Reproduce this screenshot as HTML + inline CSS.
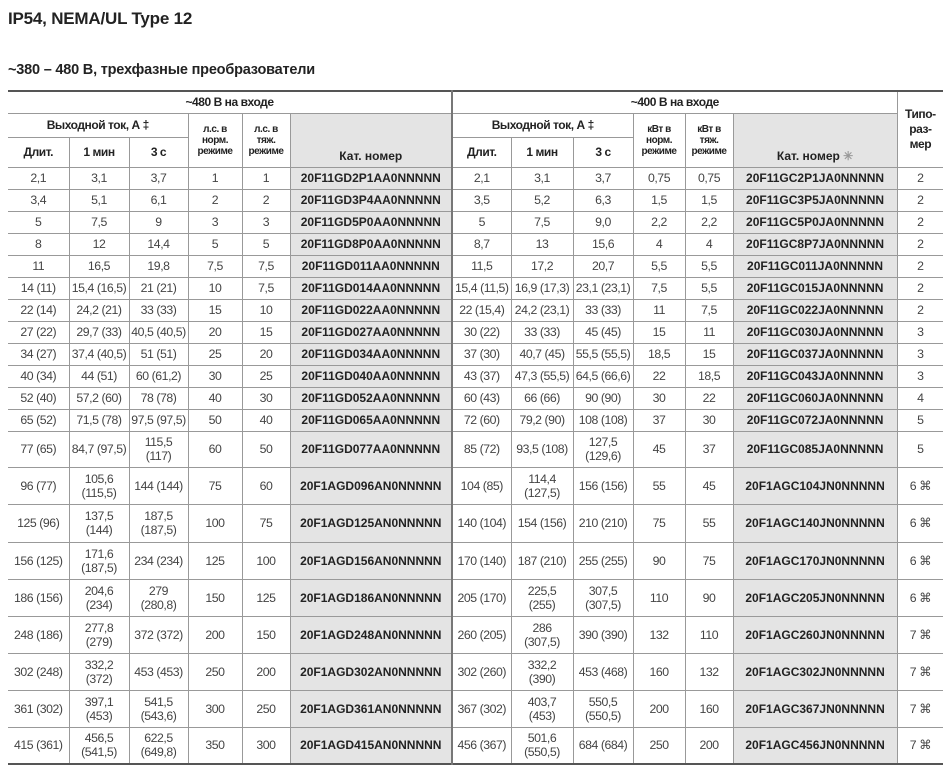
<!DOCTYPE html>
<html><head><meta charset="utf-8"><style>
body{margin:0;width:951px;height:768px;background:#fff;font-family:"Liberation Sans",sans-serif;position:relative;overflow:hidden}
.t1{position:absolute;left:8px;top:9px;font-size:17px;font-weight:bold;color:#222;letter-spacing:-0.2px}
.t2{position:absolute;left:8px;top:62px;font-size:14.5px;font-weight:bold;color:#222;letter-spacing:-0.2px}
table{position:absolute;left:8px;top:90px;border-collapse:collapse;table-layout:fixed;width:935px;border-top:2px solid #555;border-bottom:2px solid #555}
td{border:1px solid #999;text-align:center;vertical-align:middle;font-size:12.3px;color:#444;padding:0;line-height:14px;overflow:hidden;white-space:nowrap;letter-spacing:-0.45px}
tr td:first-child{border-left:none}
tr td:last-child{border-right:none}
.h{font-weight:bold;color:#222;font-size:12px}
.s{font-size:10px;line-height:11px;font-weight:bold;color:#222}
.c{background:#e4e4e4;font-weight:bold;color:#222;font-size:12px;letter-spacing:0}
.sep{border-right:2px solid #777}
</style></head><body>
<div class="t1">IP54, NEMA/UL Type 12</div>
<div class="t2">~380 – 480 В, трехфазные преобразователи</div>
<table>
<colgroup><col style="width:61px"><col style="width:60px"><col style="width:59px"><col style="width:54px"><col style="width:48px"><col style="width:162px"><col style="width:59px"><col style="width:62px"><col style="width:60px"><col style="width:52px"><col style="width:48px"><col style="width:164px"><col style="width:46px"></colgroup>
<tr style="height:22px"><td colspan="6" class="h sep">~480 В на входе</td><td colspan="6" class="h">~400 В на входе</td><td rowspan="3" class="h" style="white-space:normal;line-height:15px">Типо-<br>раз-<br>мер</td></tr>
<tr style="height:24px"><td colspan="3" class="h">Выходной ток, А ‡</td><td rowspan="2" class="s">л.с. в<br>норм.<br>режиме</td><td rowspan="2" class="s">л.с. в<br>тяж.<br>режиме</td><td rowspan="2" class="c sep" style="vertical-align:bottom;padding-bottom:4px">Кат. номер</td>
<td colspan="3" class="h">Выходной ток, А ‡</td><td rowspan="2" class="s">кВт в<br>норм.<br>режиме</td><td rowspan="2" class="s">кВт в<br>тяж.<br>режиме</td><td rowspan="2" class="c" style="vertical-align:bottom;padding-bottom:4px">Кат. номер <span style="color:#999">✳</span></td></tr>
<tr style="height:30px"><td class="h">Длит.</td><td class="h">1 мин</td><td class="h">3 с</td><td class="h">Длит.</td><td class="h">1 мин</td><td class="h">3 с</td></tr>
<tr style="height:22px"><td>2,1</td><td>3,1</td><td>3,7</td><td>1</td><td>1</td><td class="c sep">20F11GD2P1AA0NNNNN</td><td>2,1</td><td>3,1</td><td>3,7</td><td>0,75</td><td>0,75</td><td class="c">20F11GC2P1JA0NNNNN</td><td>2</td></tr>
<tr style="height:22px"><td>3,4</td><td>5,1</td><td>6,1</td><td>2</td><td>2</td><td class="c sep">20F11GD3P4AA0NNNNN</td><td>3,5</td><td>5,2</td><td>6,3</td><td>1,5</td><td>1,5</td><td class="c">20F11GC3P5JA0NNNNN</td><td>2</td></tr>
<tr style="height:22px"><td>5</td><td>7,5</td><td>9</td><td>3</td><td>3</td><td class="c sep">20F11GD5P0AA0NNNNN</td><td>5</td><td>7,5</td><td>9,0</td><td>2,2</td><td>2,2</td><td class="c">20F11GC5P0JA0NNNNN</td><td>2</td></tr>
<tr style="height:22px"><td>8</td><td>12</td><td>14,4</td><td>5</td><td>5</td><td class="c sep">20F11GD8P0AA0NNNNN</td><td>8,7</td><td>13</td><td>15,6</td><td>4</td><td>4</td><td class="c">20F11GC8P7JA0NNNNN</td><td>2</td></tr>
<tr style="height:22px"><td>11</td><td>16,5</td><td>19,8</td><td>7,5</td><td>7,5</td><td class="c sep">20F11GD011AA0NNNNN</td><td>11,5</td><td>17,2</td><td>20,7</td><td>5,5</td><td>5,5</td><td class="c">20F11GC011JA0NNNNN</td><td>2</td></tr>
<tr style="height:22px"><td>14 (11)</td><td>15,4 (16,5)</td><td>21 (21)</td><td>10</td><td>7,5</td><td class="c sep">20F11GD014AA0NNNNN</td><td>15,4 (11,5)</td><td>16,9 (17,3)</td><td>23,1 (23,1)</td><td>7,5</td><td>5,5</td><td class="c">20F11GC015JA0NNNNN</td><td>2</td></tr>
<tr style="height:22px"><td>22 (14)</td><td>24,2 (21)</td><td>33 (33)</td><td>15</td><td>10</td><td class="c sep">20F11GD022AA0NNNNN</td><td>22 (15,4)</td><td>24,2 (23,1)</td><td>33 (33)</td><td>11</td><td>7,5</td><td class="c">20F11GC022JA0NNNNN</td><td>2</td></tr>
<tr style="height:22px"><td>27 (22)</td><td>29,7 (33)</td><td>40,5 (40,5)</td><td>20</td><td>15</td><td class="c sep">20F11GD027AA0NNNNN</td><td>30 (22)</td><td>33 (33)</td><td>45 (45)</td><td>15</td><td>11</td><td class="c">20F11GC030JA0NNNNN</td><td>3</td></tr>
<tr style="height:22px"><td>34 (27)</td><td>37,4 (40,5)</td><td>51 (51)</td><td>25</td><td>20</td><td class="c sep">20F11GD034AA0NNNNN</td><td>37 (30)</td><td>40,7 (45)</td><td>55,5 (55,5)</td><td>18,5</td><td>15</td><td class="c">20F11GC037JA0NNNNN</td><td>3</td></tr>
<tr style="height:22px"><td>40 (34)</td><td>44 (51)</td><td>60 (61,2)</td><td>30</td><td>25</td><td class="c sep">20F11GD040AA0NNNNN</td><td>43 (37)</td><td>47,3 (55,5)</td><td>64,5 (66,6)</td><td>22</td><td>18,5</td><td class="c">20F11GC043JA0NNNNN</td><td>3</td></tr>
<tr style="height:22px"><td>52 (40)</td><td>57,2 (60)</td><td>78 (78)</td><td>40</td><td>30</td><td class="c sep">20F11GD052AA0NNNNN</td><td>60 (43)</td><td>66 (66)</td><td>90 (90)</td><td>30</td><td>22</td><td class="c">20F11GC060JA0NNNNN</td><td>4</td></tr>
<tr style="height:22px"><td>65 (52)</td><td>71,5 (78)</td><td>97,5 (97,5)</td><td>50</td><td>40</td><td class="c sep">20F11GD065AA0NNNNN</td><td>72 (60)</td><td>79,2 (90)</td><td>108 (108)</td><td>37</td><td>30</td><td class="c">20F11GC072JA0NNNNN</td><td>5</td></tr>
<tr style="height:36px"><td>77 (65)</td><td>84,7 (97,5)</td><td>115,5<br>(117)</td><td>60</td><td>50</td><td class="c sep">20F11GD077AA0NNNNN</td><td>85 (72)</td><td>93,5 (108)</td><td>127,5<br>(129,6)</td><td>45</td><td>37</td><td class="c">20F11GC085JA0NNNNN</td><td>5</td></tr>
<tr style="height:37px"><td>96 (77)</td><td>105,6<br>(115,5)</td><td>144 (144)</td><td>75</td><td>60</td><td class="c sep">20F1AGD096AN0NNNNN</td><td>104 (85)</td><td>114,4<br>(127,5)</td><td>156 (156)</td><td>55</td><td>45</td><td class="c">20F1AGC104JN0NNNNN</td><td>6 ⌘</td></tr>
<tr style="height:38px"><td>125 (96)</td><td>137,5<br>(144)</td><td>187,5<br>(187,5)</td><td>100</td><td>75</td><td class="c sep">20F1AGD125AN0NNNNN</td><td>140 (104)</td><td>154 (156)</td><td>210 (210)</td><td>75</td><td>55</td><td class="c">20F1AGC140JN0NNNNN</td><td>6 ⌘</td></tr>
<tr style="height:37px"><td>156 (125)</td><td>171,6<br>(187,5)</td><td>234 (234)</td><td>125</td><td>100</td><td class="c sep">20F1AGD156AN0NNNNN</td><td>170 (140)</td><td>187 (210)</td><td>255 (255)</td><td>90</td><td>75</td><td class="c">20F1AGC170JN0NNNNN</td><td>6 ⌘</td></tr>
<tr style="height:37px"><td>186 (156)</td><td>204,6<br>(234)</td><td>279<br>(280,8)</td><td>150</td><td>125</td><td class="c sep">20F1AGD186AN0NNNNN</td><td>205 (170)</td><td>225,5<br>(255)</td><td>307,5<br>(307,5)</td><td>110</td><td>90</td><td class="c">20F1AGC205JN0NNNNN</td><td>6 ⌘</td></tr>
<tr style="height:37px"><td>248 (186)</td><td>277,8<br>(279)</td><td>372 (372)</td><td>200</td><td>150</td><td class="c sep">20F1AGD248AN0NNNNN</td><td>260 (205)</td><td>286<br>(307,5)</td><td>390 (390)</td><td>132</td><td>110</td><td class="c">20F1AGC260JN0NNNNN</td><td>7 ⌘</td></tr>
<tr style="height:37px"><td>302 (248)</td><td>332,2<br>(372)</td><td>453 (453)</td><td>250</td><td>200</td><td class="c sep">20F1AGD302AN0NNNNN</td><td>302 (260)</td><td>332,2<br>(390)</td><td>453 (468)</td><td>160</td><td>132</td><td class="c">20F1AGC302JN0NNNNN</td><td>7 ⌘</td></tr>
<tr style="height:37px"><td>361 (302)</td><td>397,1<br>(453)</td><td>541,5<br>(543,6)</td><td>300</td><td>250</td><td class="c sep">20F1AGD361AN0NNNNN</td><td>367 (302)</td><td>403,7<br>(453)</td><td>550,5<br>(550,5)</td><td>200</td><td>160</td><td class="c">20F1AGC367JN0NNNNN</td><td>7 ⌘</td></tr>
<tr style="height:37px"><td>415 (361)</td><td>456,5<br>(541,5)</td><td>622,5<br>(649,8)</td><td>350</td><td>300</td><td class="c sep">20F1AGD415AN0NNNNN</td><td>456 (367)</td><td>501,6<br>(550,5)</td><td>684 (684)</td><td>250</td><td>200</td><td class="c">20F1AGC456JN0NNNNN</td><td>7 ⌘</td></tr>
</table>
</body></html>
